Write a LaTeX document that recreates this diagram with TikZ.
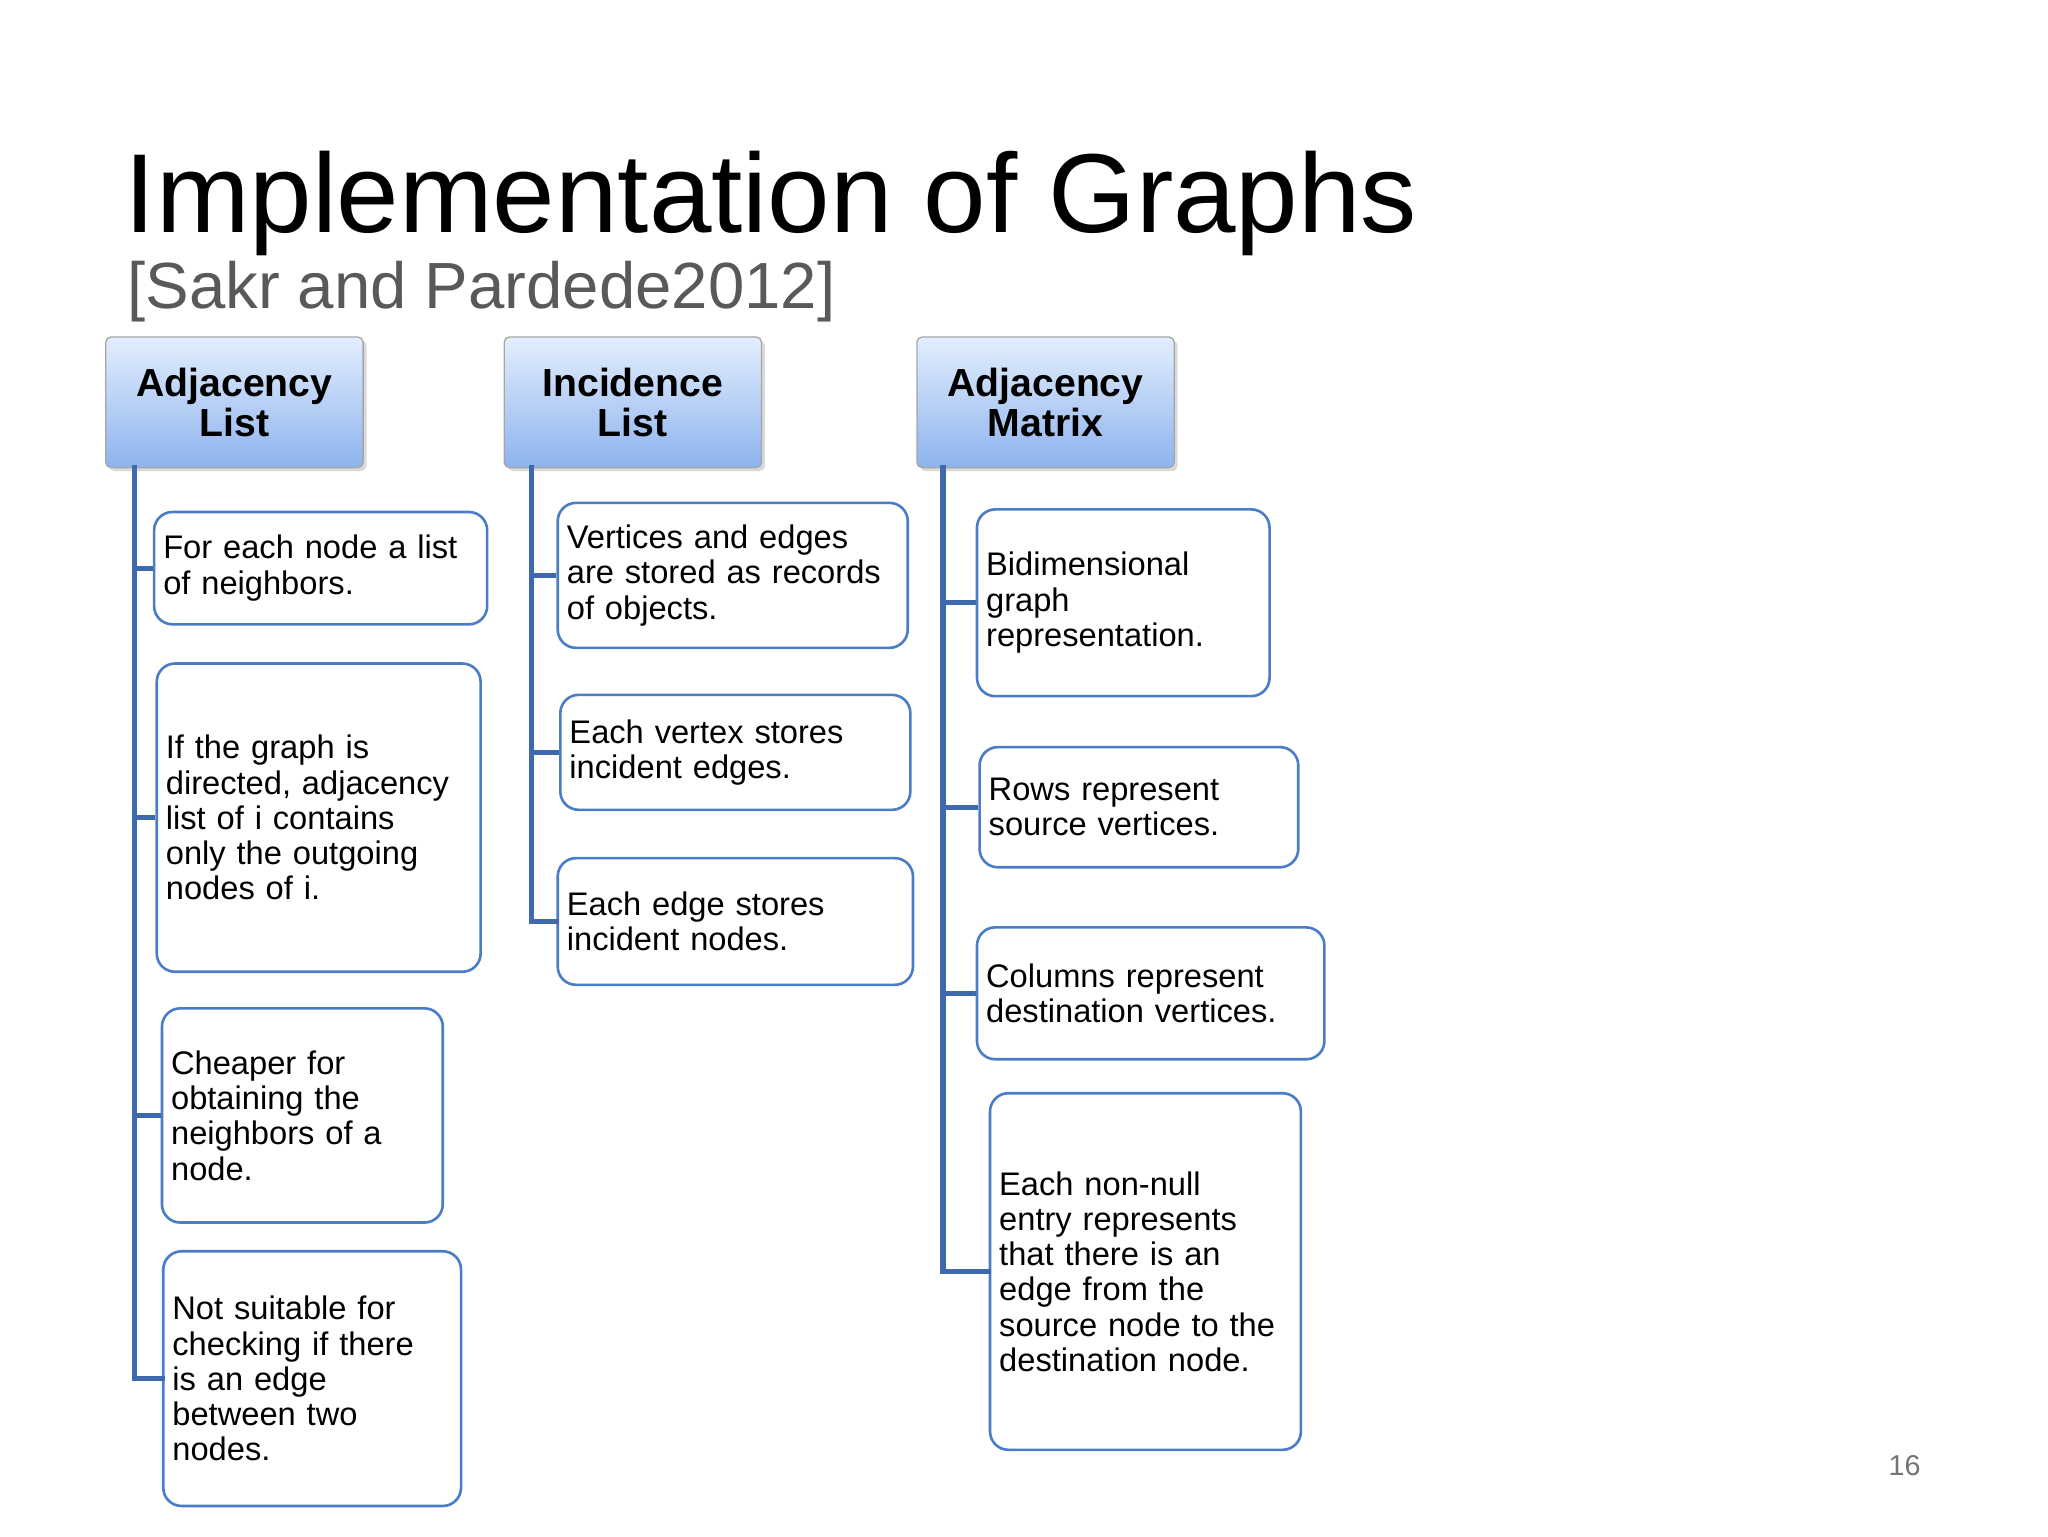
\documentclass[tikz,border=0pt]{standalone}
\usepackage{fontspec}
\setmainfont{Liberation Sans}
\usetikzlibrary{shadows}
\definecolor{ln}{HTML}{3F69AD}
\definecolor{bd}{HTML}{4A7CC7}
\definecolor{htop}{HTML}{E3EEFD}
\definecolor{hbot}{HTML}{8DB3EE}
\begin{document}
\begin{tikzpicture}[x=1pt,y=-1pt,
 hdr/.style={draw=gray!70,line width=1pt,rounded corners=4pt,top color=htop,bottom color=hbot,
   font=\fontsize{30}{31}\selectfont\bfseries,align=center,drop shadow={opacity=0.3}},
 item/.style={draw=bd,line width=2pt,rounded corners=14pt,fill=white,align=left,inner sep=6pt,
   font=\fontsize{25}{27}\selectfont},
 conn/.style={draw=ln,line width=4pt}]
\useasboundingbox (0,0) rectangle (1568,1176);
\node[anchor=base west,font=\fontsize{86}{90}\selectfont] (title) at (92,178) {Implementation of Graphs};
\node[anchor=base west,font=\fontsize{50}{54}\selectfont,text=black!65] (sub) at (94,236) {[Sakr and Pardede2012]};
\node[anchor=base east,font=\fontsize{22}{24}\selectfont,text=black!55] (pg) at (1474,1130) {16};
% headers
\node[hdr,minimum width=197pt,minimum height=100pt] (h1) at (179.5,308) {Adjacency\\List};
\node[hdr,minimum width=197pt,minimum height=100pt] (h2) at (484.5,308) {Incidence\\List};
\node[hdr,minimum width=197pt,minimum height=100pt] (h3) at (800.5,308) {Adjacency\\Matrix};
% boxes: macro by corners
\newcommand{\bx}[6]{\node[item,minimum width=#4-#2,minimum height=#5-#3,text width=#4-#2-14pt] (#1) at ({(#2+#4)/2},{(#3+#5)/2}) {#6};}
\bx{a1}{118}{392}{373}{478}{For each node a list\\of neighbors.}
\bx{a2}{120}{508}{368}{744}{If the graph is\\directed, adjacency\\list of i contains\\only the outgoing\\nodes of i.}
\bx{a3}{124}{772}{339}{936}{Cheaper for\\obtaining the\\neighbors of a\\node.}
\bx{a4}{125}{958}{353}{1153}{Not suitable for\\checking if there\\is an edge\\between two\\nodes.}
\bx{b1}{427}{385}{695}{496}{Vertices and edges\\are stored as records\\of objects.}
\bx{b2}{429}{532}{697}{620}{Each vertex stores\\incident edges.}
\bx{b3}{427}{657}{699}{754}{Each edge stores\\incident nodes.}
\bx{c1}{748}{390}{972}{533}{Bidimensional\\graph\\representation.}
\bx{c2}{750}{572}{994}{664}{Rows represent\\source vertices.}
\bx{c3}{748}{710}{1014}{811}{Columns represent\\destination vertices.}
\bx{c4}{758}{837}{996}{1110}{Each non-null\\entry represents\\that there is an\\edge from the\\source node to the\\destination node.}
% connectors
\coordinate (t1) at (103,358); \coordinate (t2) at (407,358); \coordinate (t3) at (722,358);
\draw[conn,line cap=rect] (t1) -- (t1 |- a4.west) -- (a4.west);
\foreach \n in {a1,a2,a3} \draw[conn] (t1 |- \n.west) -- (\n.west);
\draw[conn,line cap=rect] (t2) -- (t2 |- b3.west) -- (b3.west);
\foreach \n in {b1,b2} \draw[conn] (t2 |- \n.west) -- (\n.west);
\draw[conn,line cap=rect] (t3) -- (t3 |- c4.west) -- (c4.west);
\foreach \n in {c1,c2,c3} \draw[conn] (t3 |- \n.west) -- (\n.west);
\end{tikzpicture}
\end{document}
